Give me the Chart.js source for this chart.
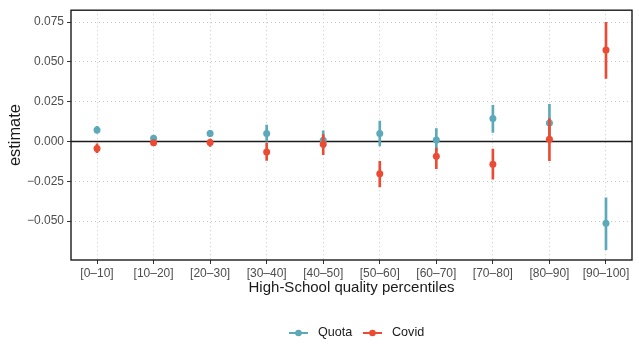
<!DOCTYPE html>
<html>
<head>
<meta charset="utf-8">
<script src="https://cdn.jsdelivr.net/npm/chart.js@4.4.0/dist/chart.umd.min.js"></script>
<style>
  html, body { margin: 0; padding: 0; background: #fff; }
  #wrap { width: 639px; height: 360px; }
</style>
</head>
<body>
<div id="wrap"><canvas id="grafica" width="639" height="360"></canvas></div>
<script>
// Categorías del eje x (percentiles de calidad)
const categorias = ['[0–10]', '[10–20]', '[20–30]', '[30–40]', '[40–50]',
                    '[50–60]', '[60–70]', '[70–80]', '[80–90]', '[90–100]'];

// Estimaciones e intervalos: Quota
const quotaEst  = [0.0073, 0.0020, 0.0050, 0.0050, 0.0008, 0.0050, 0.0010, 0.0145, 0.0116, -0.0513];
const quotaLow  = [0.0052, 0.0005, 0.0030, 0.0000, -0.0040, -0.0027, -0.0060, 0.0058, -0.0002, -0.0679];
const quotaHigh = [0.0095, 0.0035, 0.0070, 0.0104, 0.0068, 0.0128, 0.0082, 0.0228, 0.0234, -0.0353];

// Estimaciones e intervalos: Covid
const covidEst  = [-0.0043, -0.0008, -0.0006, -0.0066, -0.0017, -0.0203, -0.0093, -0.0143, 0.0014, 0.0575];
const covidLow  = [-0.0070, -0.0020, -0.0030, -0.0119, -0.0083, -0.0285, -0.0170, -0.0237, -0.0120, 0.0397];
const covidHigh = [-0.0015, 0.0005, 0.0015, -0.0010, 0.0043, -0.0124, -0.0041, -0.0048, 0.0144, 0.0749];

// Marcas del eje y
const ticksY = [-0.05, -0.025, 0, 0.025, 0.05, 0.075];
const etiquetasY = ['−0.050', '−0.025', '0.000', '0.025', '0.050', '0.075'];

const colorQuota = '#5CA9B9';
const colorCovid = '#EC4B33';

const puntos = est => est.map((v, i) => ({ x: i, y: v }));
const barras = (lo, hi) => lo.map((v, i) => ({ x: i, y: [v, hi[i]] }));

// Marco completo del panel
const marco = {
  id: 'marco',
  afterDatasetsDraw(chart) {
    const { ctx, chartArea: a } = chart;
    ctx.save();
    ctx.strokeStyle = '#1a1a1a';
    ctx.lineWidth = 1.4;
    ctx.strokeRect(a.left, a.top, a.right - a.left, a.bottom - a.top);
    ctx.restore();
  }
};

// Leyenda inferior dibujada a mano
const leyenda = {
  id: 'leyenda',
  afterDraw(chart) {
    const ctx = chart.ctx;
    const y = 333;
    const items = [
      { t: 'Quota', c: colorQuota, x0: 289 },
      { t: 'Covid', c: colorCovid, x0: 363 }
    ];
    ctx.save();
    items.forEach(it => {
      ctx.strokeStyle = it.c;
      ctx.lineWidth = 2;
      ctx.beginPath();
      ctx.moveTo(it.x0, y);
      ctx.lineTo(it.x0 + 19, y);
      ctx.stroke();
      ctx.fillStyle = it.c;
      ctx.beginPath();
      ctx.arc(it.x0 + 9.5, y, 3.3, 0, Math.PI * 2);
      ctx.fill();
      ctx.fillStyle = '#1a1a1a';
      ctx.font = '12.6px "Liberation Sans", Arial, sans-serif';
      ctx.textBaseline = 'middle';
      ctx.fillText(it.t, it.x0 + 29, y);
    });
    ctx.restore();
  }
};

const fuente = '"Liberation Sans", Arial, sans-serif';

new Chart(document.getElementById('grafica'), {
  type: 'scatter',
  data: {
    datasets: [
      {
        type: 'line',
        data: [{ x: -0.46, y: 0 }, { x: 9.46, y: 0 }],
        borderColor: '#1a1a1a',
        borderWidth: 1.6,
        pointRadius: 0,
        order: 10
      },
      {
        type: 'bar',
        label: 'Quota',
        data: barras(quotaLow, quotaHigh),
        backgroundColor: colorQuota,
        barThickness: 2,
        grouped: false,
        order: 4
      },
      {
        type: 'scatter',
        label: 'Quota',
        data: puntos(quotaEst),
        backgroundColor: colorQuota,
        borderWidth: 0,
        pointRadius: 3.5,
        order: 3
      },
      {
        type: 'bar',
        label: 'Covid',
        data: barras(covidLow, covidHigh),
        backgroundColor: colorCovid,
        barThickness: 2,
        grouped: false,
        order: 2
      },
      {
        type: 'scatter',
        label: 'Covid',
        data: puntos(covidEst),
        backgroundColor: colorCovid,
        borderWidth: 0,
        pointRadius: 3.5,
        order: 1
      }
    ]
  },
  options: {
    responsive: false,
    animation: false,
    layout: { padding: { top: 7, right: 7, left: 0, bottom: 62 } },
    plugins: { legend: { display: false }, tooltip: { enabled: false } },
    scales: {
      x: {
        type: 'linear',
        offset: false,
        min: -0.46,
        max: 9.46,
        afterBuildTicks: s => { s.ticks = categorias.map((c, i) => ({ value: i })); },
        afterFit: s => { s.height = 38; },
        ticks: {
          callback: v => categorias[v],
          color: '#4d4d4d',
          font: { family: fuente, size: 12 },
          padding: 2,
          maxRotation: 0,
          autoSkip: false
        },
        grid: {
          offset: false,
          color: '#c8c8c8',
          tickColor: '#333333',
          tickBorderDash: [],
          tickLength: 4,
          lineWidth: 1
        },
        border: { display: false, dash: [1, 3] },
        title: {
          display: true,
          text: 'High-School quality percentiles',
          color: '#1a1a1a',
          font: { family: fuente, size: 15 },
          padding: { top: 0, bottom: 1 }
        }
      },
      y: {
        min: -0.0744,
        max: 0.0825,
        afterBuildTicks: s => { s.ticks = ticksY.map(v => ({ value: v })); },
        afterFit: s => { s.width = 71; },
        ticks: {
          callback: v => etiquetasY[ticksY.findIndex(t => Math.abs(t - v) < 1e-9)],
          color: '#4d4d4d',
          font: { family: fuente, size: 12 },
          padding: 3
        },
        grid: {
          color: '#c8c8c8',
          tickColor: '#333333',
          tickBorderDash: [],
          tickLength: 4,
          lineWidth: 1
        },
        border: { display: false, dash: [1, 3] },
        title: {
          display: true,
          text: 'estimate',
          color: '#1a1a1a',
          font: { family: fuente, size: 16.4 },
          padding: { top: 6, bottom: 0 }
        }
      }
    }
  },
  plugins: [marco, leyenda]
});
</script>
</body>
</html>
